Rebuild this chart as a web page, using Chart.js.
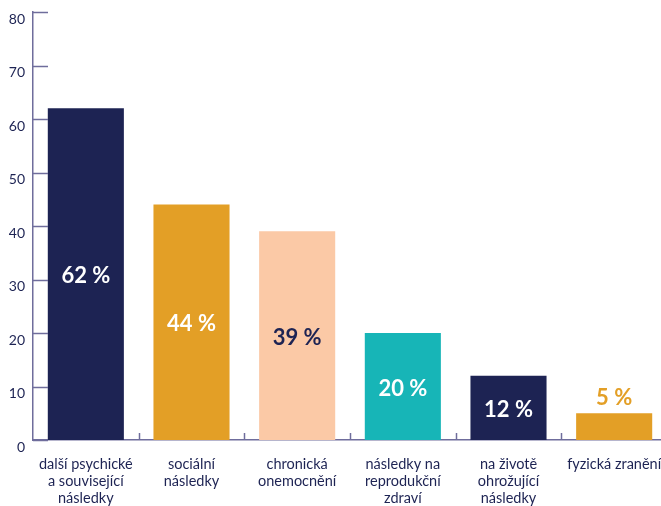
<!DOCTYPE html>
<html>
<head>
<meta charset="utf-8">
<script src="https://cdn.jsdelivr.net/npm/chart.js@4"></script>
<style>
  html, body { margin: 0; padding: 0; background: #fff; overflow: hidden; }
  #wrap { width: 667px; height: 506px; position: relative; }
</style>
</head>
<body>
<div id="wrap"><canvas id="chart"></canvas></div>
<script>
var categories = [
    ["další psychické", "a související", "následky"],
    ["sociální", "následky"],
    ["chronická", "onemocnění"],
    ["následky na", "reprodukční", "zdraví"],
    ["na životě", "ohrožující", "následky"],
    "fyzická zranění"
];
var values = [62, 44, 39, 20, 12, 5];
var barColors = ["#1d2353", "#e39f26", "#fbc9a6", "#17b5b7", "#1d2353", "#e39f26"];
var labelColors = ["#ffffff", "#ffffff", "#1d2353", "#ffffff", "#ffffff", "#e39f26"];
var yTicks = [0, 10, 20, 30, 40, 50, 60, 70, 80];

var NAVY = "#1d2353";
var AXIS = "#6f6d9c";
var FONT = "Lato, 'Open Sans', sans-serif";

// short tick marks drawn inward from both axes
var innerTicks = {
    id: "innerTicks",
    afterDraw: function(chart) {
        var ctx = chart.ctx, area = chart.chartArea;
        var x = chart.scales.x, y = chart.scales.y;
        ctx.save();
        ctx.strokeStyle = AXIS;
        ctx.lineWidth = 1.5;
        yTicks.forEach(function(v) {
            var py = Math.round(y.getPixelForValue(v)) + 0.5;
            ctx.beginPath();
            ctx.moveTo(area.left, py);
            ctx.lineTo(area.left + 15, py);
            ctx.stroke();
        });
        for (var i = 1; i < categories.length; i++) {
            var px = Math.round((x.getPixelForValue(i - 1) + x.getPixelForValue(i)) / 2) + 0.5;
            ctx.beginPath();
            ctx.moveTo(px, area.bottom);
            ctx.lineTo(px, area.bottom - 7);
            ctx.stroke();
        }
        ctx.restore();
    }
};

// percentage labels inside the bars, or above when the bar is short
var valueLabels = {
    id: "valueLabels",
    afterDatasetsDraw: function(chart) {
        var ctx = chart.ctx;
        var meta = chart.getDatasetMeta(0);
        ctx.save();
        ctx.font = "bold 22px " + FONT;
        ctx.textAlign = "center";
        ctx.textBaseline = "middle";
        meta.data.forEach(function(bar, i) {
            var h = bar.base - bar.y;
            var ty = h > 40 ? bar.y + h / 2 + 2 : bar.y - 15;
            ctx.fillStyle = labelColors[i];
            ctx.fillText(values[i] + " %", bar.x, ty);
        });
        ctx.restore();
    }
};

new Chart(document.getElementById("chart").getContext("2d"), {
    type: "bar",
    data: {
        labels: categories,
        datasets: [{
            data: values,
            backgroundColor: barColors,
            borderWidth: 0,
            categoryPercentage: 1,
            barPercentage: 0.72
        }]
    },
    options: {
        responsive: true,
        maintainAspectRatio: false,
        animation: false,
        layout: { padding: { top: 12, right: 0, left: 0, bottom: 0 } },
        plugins: { legend: { display: false }, tooltip: { enabled: false } },
        scales: {
            x: {
                grid: { display: false, drawTicks: false },
                border: { display: true, color: AXIS, width: 1.5 },
                ticks: {
                    color: NAVY,
                    font: { family: FONT, size: 14.5, lineHeight: 1.18 },
                    padding: 16,
                    maxRotation: 0,
                    autoSkip: false
                },
                afterFit: function(scale) {
                    scale.height = 66;
                    scale.paddingLeft = 0;
                    scale.paddingRight = 0;
                }
            },
            y: {
                min: 0,
                max: 80,
                grid: { display: false, drawTicks: false },
                border: { display: true, color: AXIS, width: 1.5 },
                ticks: {
                    stepSize: 10,
                    color: NAVY,
                    font: { family: FONT, size: 14 },
                    padding: 8,
                    labelOffset: 7
                },
                afterFit: function(scale) {
                    scale.width = 33;
                    scale.paddingTop = 0;
                    scale.paddingBottom = 0;
                }
            }
        }
    },
    plugins: [innerTicks, valueLabels]
});
</script>
</body>
</html>
